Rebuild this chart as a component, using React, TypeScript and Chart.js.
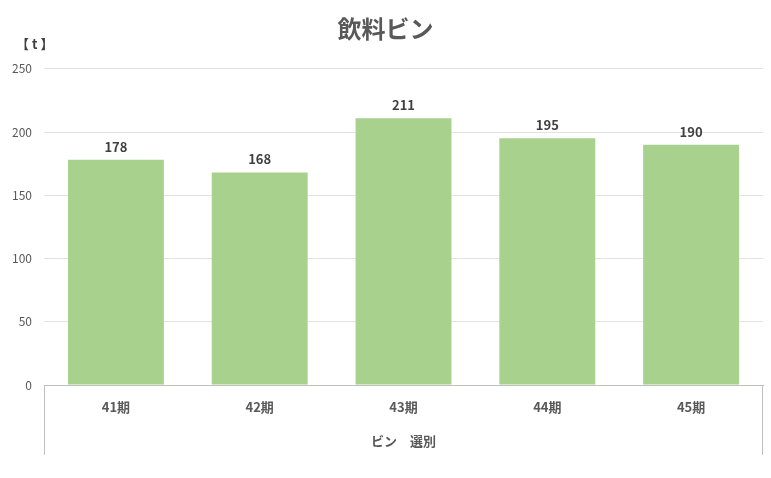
import React, { useEffect, useRef } from 'react';
import { Chart, registerables } from 'chart.js';

Chart.register(...registerables);

const chartTitle = '飲料ビン';
const unitLabel = '【 t 】';
const categories = ['41期', '42期', '43期', '44期', '45期'];
const values = [178, 168, 211, 195, 190];
const groupLabel = 'ビン　選別';
const yMin = 0;
const yMax = 250;
const yStep = 50;

const FONT = '"Noto Sans CJK JP", "Noto Sans", sans-serif';

const valueLabels = {
  id: 'valueLabels',
  afterDatasetsDraw(chart: any) {
    const ctx = chart.ctx;
    const meta = chart.getDatasetMeta(0);
    ctx.save();
    ctx.font = `bold 13px ${FONT}`;
    ctx.fillStyle = '#404040';
    ctx.textAlign = 'center';
    ctx.textBaseline = 'middle';
    meta.data.forEach((el: any, i: number) => {
      ctx.fillText(String(values[i]), el.x, el.y - 13);
    });
    ctx.restore();
  },
};

const frameAndUnit = {
  id: 'frameAndUnit',
  afterDraw(chart: any) {
    const ctx = chart.ctx;
    const { left, right, bottom } = chart.chartArea;
    const xs = chart.scales.x;
    ctx.save();
    ctx.strokeStyle = '#bfbfbf';
    ctx.lineWidth = 1;
    ctx.beginPath();
    const lowY = xs.bottom - 23;
    ctx.moveTo(Math.round(left) + 0.5, bottom);
    ctx.lineTo(Math.round(left) + 0.5, lowY);
    ctx.moveTo(Math.round(right) - 0.5, bottom);
    ctx.lineTo(Math.round(right) - 0.5, lowY);
    ctx.stroke();
    ctx.font = `bold 13px ${FONT}`;
    ctx.fillStyle = '#404040';
    ctx.textAlign = 'left';
    ctx.textBaseline = 'middle';
    ctx.fillText(unitLabel, 16, 44);
    ctx.restore();
  },
};

export default function App() {
  const ref = useRef<HTMLCanvasElement | null>(null);
  useEffect(() => {
    document.body.style.margin = '0';
    const chart = new Chart(ref.current as HTMLCanvasElement, {
      type: 'bar',
      data: {
        labels: categories,
        datasets: [
          {
            data: values,
            backgroundColor: '#a9d18e',
            borderWidth: 0,
            barPercentage: 0.667,
            categoryPercentage: 1,
          },
        ],
      },
      options: {
        animation: false,
        responsive: true,
        maintainAspectRatio: false,
        layout: { padding: { left: 8, right: 8, top: 0, bottom: 0 } },
        plugins: {
          legend: { display: false },
          tooltip: { enabled: false },
          title: {
            display: true,
            text: chartTitle,
            color: '#595959',
            font: { family: FONT, size: 24, weight: 'bold', lineHeight: 1.2 },
            padding: { top: 14, bottom: 26 },
          },
        },
        scales: {
          x: {
            grid: { display: false, drawTicks: false },
            border: { display: true, color: '#bfbfbf', width: 1 },
            ticks: {
              color: '#595959',
              font: { family: FONT, size: 13, weight: 'bold' },
              padding: 14,
              maxRotation: 0,
            },
            title: {
              display: true,
              text: groupLabel,
              color: '#595959',
              font: { family: FONT, size: 13, weight: 'bold', lineHeight: 1.2 },
              padding: { top: 0, bottom: 29 },
            },
            afterFit(scale: any) {
              scale.height = 93;
            },
          },
          y: {
            min: yMin,
            max: yMax,
            ticks: {
              stepSize: yStep,
              color: '#595959',
              font: { family: FONT, size: 12 },
              padding: 12,
            },
            grid: { color: '#e3e3e3', drawTicks: false },
            border: { display: false },
            afterFit(scale: any) {
              scale.width = 36;
            },
          },
        },
      },
      plugins: [valueLabels, frameAndUnit],
    });
    return () => chart.destroy();
  }, []);
  return (
    <div style={{ position: 'fixed', left: 0, top: 0, width: 771, height: 478, background: '#fff' }}>
      <canvas ref={ref} />
    </div>
  );
}
